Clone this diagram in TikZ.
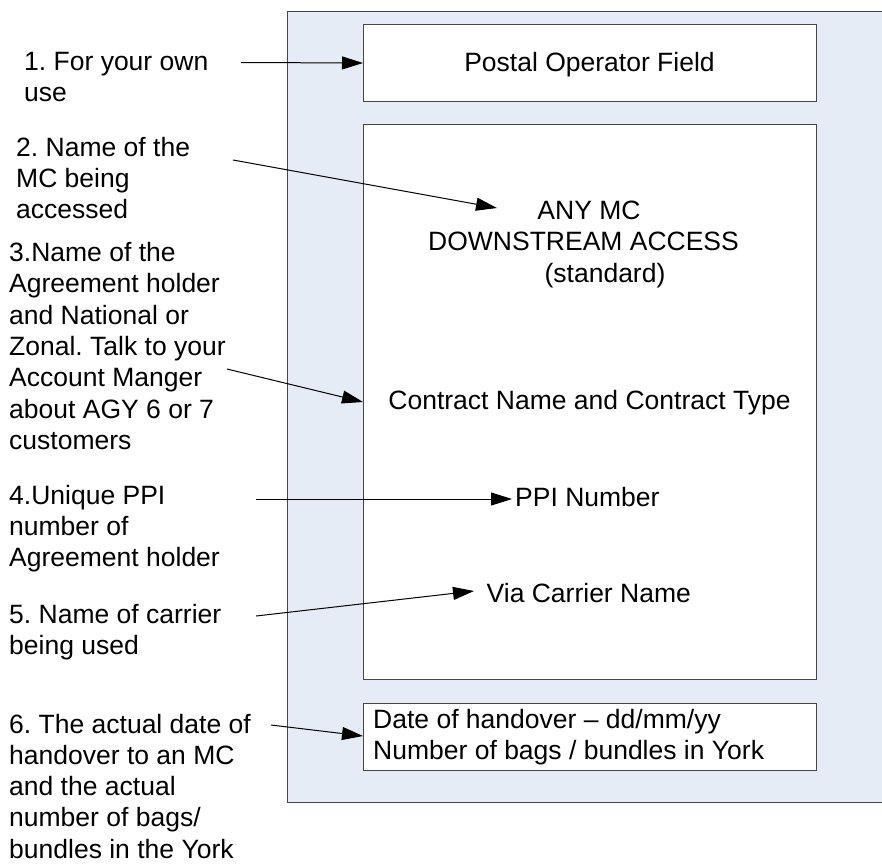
\documentclass[tikz,border=0pt]{standalone}
\usepackage{fontspec}
\setmainfont{Liberation Sans}
\usetikzlibrary{arrows.meta}
\definecolor{panel}{RGB}{230,236,246}
\definecolor{edge}{RGB}{70,70,70}
\frenchspacing
\begin{document}
\begin{tikzpicture}[x=1pt,y=-1pt,
  txt/.style={inner sep=0pt, align=left, anchor=base west, font=\frenchspacing\fontsize{26.5}{31.3}\selectfont},
  ctxt/.style={inner sep=0pt, anchor=base, font=\frenchspacing\fontsize{26.5}{31.3}\selectfont},
  box/.style={draw=edge, fill=white, line width=1pt, inner sep=0pt, anchor=north west},
  arr/.style={-{Triangle[length=21pt,width=13pt]}, line width=1pt, draw=black}
]
\useasboundingbox (0,0) rectangle (882,863);
\fill[panel] (287,11) rectangle (900,802);
\draw[line width=1pt, edge] (900,11) -- (287,11) -- (287,802) -- (900,802);

\node[box, minimum width=453pt, minimum height=77pt] (b1) at (363,24) {};
\node[box, minimum width=453pt, minimum height=555pt] (b2) at (363,124) {};
\node[box, minimum width=453pt, minimum height=67pt] (b3) at (363,703) {};

% multi-line texts: positioned at the baseline of their last line
\node[txt] (n1) at (24,101.3) {1. For your own\\use};
\node[txt] (n2) at (16,218.6) {2. Name of the\\MC being\\accessed};
\node[txt] (n3) at (9,449.3) {3.Name of the\\Agreement holder\\and National or\\Zonal. Talk to your\\Account Manger\\about AGY 6 or 7\\customers};
\node[txt] (n4) at (9,566.6) {4.Unique PPI\\number of\\Agreement holder};
\node[txt] (n5) at (9,654.3) {5. Name of carrier\\being used};
\node[txt] (n6) at (9,858.2) {6. The actual date of\\handover to an MC\\and the actual\\number of bags/\\bundles in the York};

\node[ctxt] (t1) at (589.5,71) {Postal Operator Field};
\node[ctxt] (t2a) at (589,219) {ANY MC};
\node[ctxt] (t2b) at (583.5,250.5) {DOWNSTREAM ACCESS};
\node[ctxt] (t2c) at (605,282) {(standard)};
\node[ctxt] (t3) at (589.5,409) {Contract Name and Contract Type};
\node[txt] (t4) at (515,506) {PPI Number};
\node[txt] (t5) at (486.5,602) {Via Carrier Name};
\node[txt] (t6) at (373,759.3) {Date of handover – dd/mm/yy\\Number of bags / bundles in York};

\coordinate (s1) at (241,62.5);
\coordinate (s2) at (233,160);
\coordinate (e2) at (497,208);
\coordinate (s3) at (227,369);
\coordinate (e3) at (363,402);
\coordinate (s4) at (256,499);
\coordinate (e4) at (512,499);
\coordinate (s5) at (256,616);
\coordinate (e5) at (474,591);
\coordinate (s6) at (271,725);
\coordinate (e6) at (363,736);

\draw[arr] (s1) -- (b1.west);
\draw[arr] (s2) -- (e2);
\draw[arr] (s3) -- (e3);
\draw[arr] (s4) -- (e4);
\draw[arr] (s5) -- (e5);
\draw[arr] (s6) -- (e6);
\end{tikzpicture}
\end{document}
